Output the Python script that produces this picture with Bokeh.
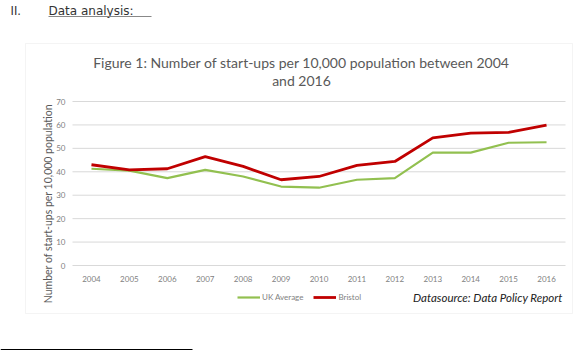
from bokeh.plotting import figure
from bokeh.models import (Label, BoxAnnotation, Legend, LegendItem,
                          Range1d, ColumnDataSource)
from bokeh.core.properties import value
from bokeh.embed import file_html
from bokeh.resources import INLINE
import math

years = [2004, 2005, 2006, 2007, 2008, 2009, 2010, 2011, 2012, 2013, 2014, 2015, 2016]
uk_average = [41.3, 40.5, 37.3, 40.8, 38.0, 33.7, 33.2, 36.6, 37.3, 48.2, 48.2, 52.4, 52.6]
bristol = [43.0, 40.8, 41.3, 46.5, 42.3, 36.6, 38.0, 42.7, 44.4, 54.5, 56.5, 56.8, 59.9]
y_ticks = [0, 10, 20, 30, 40, 50, 60, 70]
year_labels = [str(y) for y in years]
y_tick_labels = [str(v) for v in y_ticks]

# layout (pixels)
W, H = 582, 351
PL, PR, PT, PB = 72, 565, 101, 265  # plot area edges

n = len(years)
xper = (PR - PL) / n
x0 = years[0] - 0.5
x1 = years[-1] + 0.5
yper = (PB - PT) / (y_ticks[-1] - y_ticks[0])

p = figure(width=W, height=H, output_backend="svg", toolbar_location=None,
           x_range=Range1d(x0 - PL / xper, x1 + (W - PR) / xper),
           y_range=Range1d(y_ticks[0] - (H - PB) / yper, y_ticks[-1] + PT / yper),
           x_axis_type=None, y_axis_type=None, min_border=0)
p.title.visible = False
p.outline_line_color = None
p.background_fill_color = "white"
p.border_fill_color = "white"
p.grid.visible = False

# gridlines
p.segment(x0=[x0] * len(y_ticks), x1=[x1] * len(y_ticks), y0=y_ticks, y1=y_ticks,
          line_color="#d9d9d9", line_width=1)

# tick labels
p.text(x=years, y=[y_ticks[0]] * n, text=year_labels, y_offset=13,
       text_align="center", text_baseline="middle", text_font=value("Lato"),
       text_font_size="8px", text_color="#7f7f7f")
p.text(x=[x0] * len(y_ticks), y=y_ticks, text=y_tick_labels, x_offset=-7,
       text_align="right", text_baseline="middle", text_font=value("Lato"),
       text_font_size="8px", text_color="#7f7f7f")

src = ColumnDataSource(dict(year=years, uk=uk_average, bristol=bristol))
r_uk = p.line("year", "uk", source=src, line_color="#92c050", line_width=2.2)
r_br = p.line("year", "bristol", source=src, line_color="#c00000", line_width=2.8)

legend = Legend(items=[LegendItem(label="UK Average", renderers=[r_uk]),
                       LegendItem(label="Bristol", renderers=[r_br])],
                orientation="horizontal", location=(237, 49),
                label_text_font="Lato", label_text_font_size="8px",
                label_text_color="#7f7f7f", glyph_width=23, glyph_height=8,
                label_standoff=2, spacing=10, padding=0, margin=0,
                background_fill_alpha=0, border_line_color=None,
                label_height=8)
p.add_layout(legend, "center")

def sy(y_top):
    return H - y_top

def txt(x, y, text, size, color="#595959", font="Lato", align="left",
        style="normal", angle=0.0):
    p.add_layout(Label(x=x, y=sy(y), x_units="screen", y_units="screen",
                       text=text, text_font=font, text_font_size=size,
                       text_color=color, text_align=align,
                       text_baseline="middle", text_font_style=style,
                       angle=angle))

def box(l, r, t, b, **kw):
    p.add_layout(BoxAnnotation(left=l, right=r, top=sy(t), bottom=sy(b),
                               left_units="screen", right_units="screen",
                               top_units="screen", bottom_units="screen", **kw))

# chart border
box(25, 572, 43, 313, fill_alpha=0, line_color="#d9d9d9", line_width=1)

# header
txt(10, 10, "II.", "11.5px", color="#333333", font="DejaVu Sans")
txt(48, 10, "Data analysis:", "12px", color="#333333", font="DejaVu Sans")
box(48, 151, 15.5, 16.5, fill_color="#888888", fill_alpha=1, line_color=None)

# titles
txt(301, 62, "Figure 1: Number of start-ups per 10,000 population between 2004",
    "14px", color="#595959", align="center")
txt(301, 80, "and 2016", "14px", color="#595959", align="center")

# y axis title
txt(47, 203, "Number of start-ups per 10,000 population", "10.5px",
    color="#595959", align="center", angle=math.pi / 2)

# data source
txt(562, 297, "Datasource: Data Policy Report", "11.5px", color="#222222",
    align="right", style="italic")

# footnote rule
box(0, 192, 348.5, 349.5, fill_color="#000000", fill_alpha=1, line_color=None)

open("out.html", "w").write(file_html(p, INLINE))
